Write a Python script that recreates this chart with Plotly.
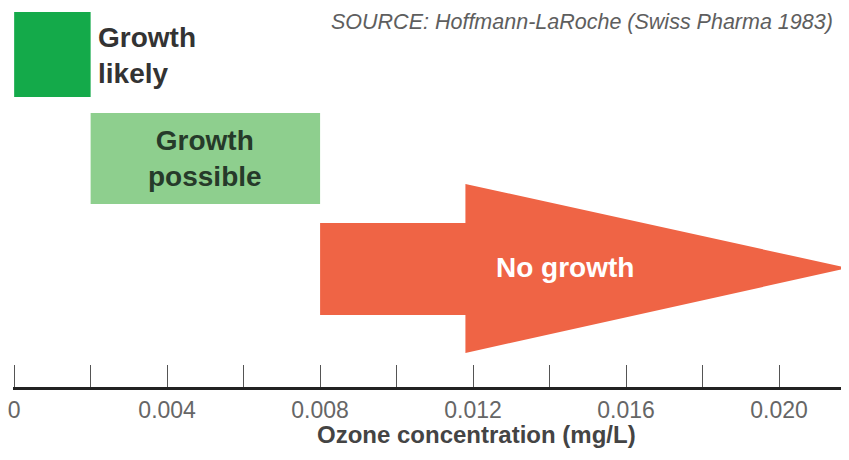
import plotly.graph_objects as go

# Zone boundaries (ozone concentration, mg/L)
zone_names = ["Growth likely", "Growth possible", "No growth"]
zone_start = [0.0, 0.002, 0.008]
zone_end = [0.002, 0.008, 0.0218]
arrow_head_start = 0.0118
no_growth_label_x = 0.0144
axis_title_x = 0.0121

tick_vals = [0.000, 0.002, 0.004, 0.006, 0.008, 0.010, 0.012, 0.014, 0.016, 0.018, 0.020]
tick_text = ["0", "", "0.004", "", "0.008", "", "0.012", "", "0.016", "", "0.020"]

C_LIKELY = "#14AA4A"
C_POSSIBLE = "#8ECF8E"
C_NONE = "#EF6445"

H = 387  # baseline pixel for the hidden y scale

fig = go.Figure()

# Growth likely box
fig.add_shape(type="rect", x0=zone_start[0], x1=zone_end[0], y0=H - 97, y1=H - 12,
              fillcolor=C_LIKELY, line=dict(width=0), layer="below")
# Growth possible box
fig.add_shape(type="rect", x0=zone_start[1], x1=zone_end[1], y0=H - 204, y1=H - 113,
              fillcolor=C_POSSIBLE, line=dict(width=0), layer="below")

# No growth arrow
ax = [zone_start[2], arrow_head_start, arrow_head_start, zone_end[2],
      arrow_head_start, arrow_head_start, zone_start[2], zone_start[2]]
ay = [H - 223, H - 223, H - 184, H - 268, H - 353, H - 315, H - 315, H - 223]
fig.add_trace(go.Scatter(x=ax, y=ay, mode="lines", fill="toself", fillcolor=C_NONE,
                         line=dict(width=0, color=C_NONE), hoverinfo="skip", showlegend=False))

fig.add_annotation(x=zone_end[0], y=H - 55, xref="x", yref="y", xshift=5,
                   text="<b>Growth<br>likely</b>", showarrow=False, xanchor="left",
                   align="left", font=dict(family="Liberation Sans", size=28, color="#333333"))
fig.add_annotation(x=(zone_start[1] + zone_end[1]) / 2, y=H - 158, xref="x", yref="y",
                   text="<b>Growth<br>possible</b>", showarrow=False,
                   align="center", font=dict(family="Liberation Sans", size=28, color="#263A2A"))
fig.add_annotation(x=no_growth_label_x, y=H - 267, xref="x", yref="y",
                   text="<b>No growth</b>", showarrow=False,
                   font=dict(family="Liberation Sans", size=28, color="#FFFFFF"))
fig.add_annotation(x=1.0, y=1.0, xref="paper", yref="paper", xshift=-14, yshift=-14,
                   text="<i>SOURCE: Hoffmann-LaRoche (Swiss Pharma 1983)</i>",
                   showarrow=False, xanchor="right", yanchor="middle",
                   font=dict(family="Liberation Sans", size=21.5, color="#5E5E5E"))
fig.add_annotation(x=axis_title_x, y=0, xref="x", yref="paper", yshift=-47,
                   text="<b>Ozone concentration (mg/L)</b>",
                   showarrow=False, xanchor="center", yanchor="middle",
                   font=dict(family="Liberation Sans", size=24, color="#444444"))

fig.update_layout(
    width=841, height=452,
    margin=dict(l=5, r=0, t=0, b=73, autoexpand=False),
    plot_bgcolor="white", paper_bgcolor="white",
    xaxis=dict(range=[-0.00003, 0.02183], tickvals=tick_vals, ticktext=tick_text,
               ticks="inside", ticklen=22, tickwidth=1, tickcolor="#555555",
               showline=True, linewidth=3, linecolor="#222222", showgrid=False,
               zeroline=False, fixedrange=True, automargin=False,
               ticklabeloverflow="allow",
               tickfont=dict(family="Liberation Sans", size=23, color="#666666")),
    yaxis=dict(range=[0, H - 8], visible=False, fixedrange=True, automargin=False),
    showlegend=False,
)

fig.write_html("out.html")
